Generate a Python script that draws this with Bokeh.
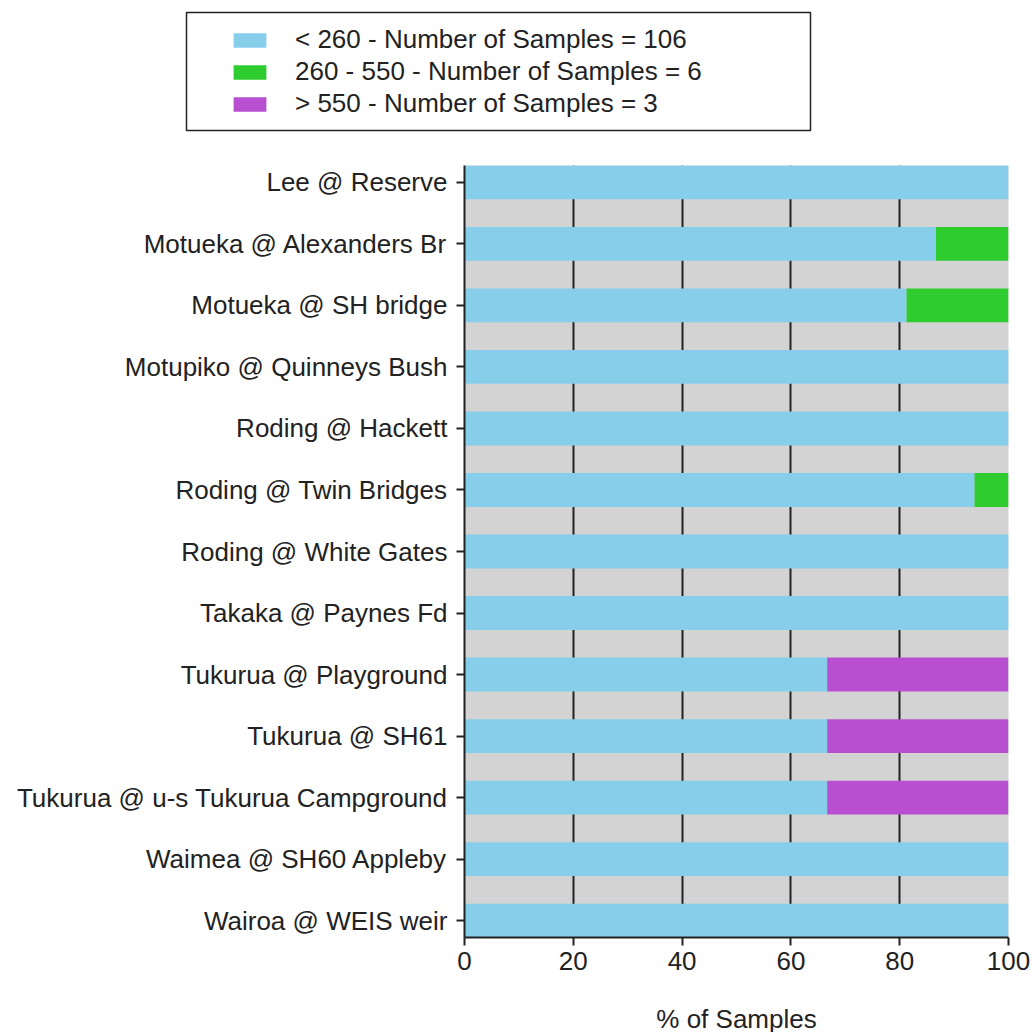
from bokeh.plotting import figure
from bokeh.models import ColumnDataSource, Range1d, FixedTicker, Legend, LegendItem
from bokeh.embed import file_html
from bokeh.resources import INLINE

sites = [
    "Lee @ Reserve",
    "Motueka @ Alexanders Br",
    "Motueka @ SH bridge",
    "Motupiko @ Quinneys Bush",
    "Roding @ Hackett",
    "Roding @ Twin Bridges",
    "Roding @ White Gates",
    "Takaka @ Paynes Fd",
    "Tukurua @ Playground",
    "Tukurua @ SH61",
    "Tukurua @ u-s Tukurua Campground",
    "Waimea @ SH60 Appleby",
    "Wairoa @ WEIS weir",
]
pct_low = [100, 86.67, 81.25, 100, 100, 93.75, 100, 100, 66.67, 66.67, 66.67, 100, 100]
pct_mid = [0, 13.33, 18.75, 0, 0, 6.25, 0, 0, 0, 0, 0, 0, 0]
pct_high = [0, 0, 0, 0, 0, 0, 0, 0, 33.33, 33.33, 33.33, 0, 0]
series_labels = [
    "< 260 - Number of Samples = 106",
    "260 - 550 - Number of Samples = 6",
    "> 550 - Number of Samples = 3",
]
series_colors = ["#87ceeb", "#2ecc2e", "#b74fd0"]
x_ticks = [0, 20, 40, 60, 80, 100]

FONT = "Liberation Sans"
FS = "26px"
TXT = "#222222"

src = ColumnDataSource(dict(y=list(range(len(sites))), low=pct_low, mid=pct_mid, high=pct_high))

# ---- legend strip (top): its frame outline is the legend box ----
LEG_H = 150
lf = figure(
    width=1032, height=LEG_H,
    frame_width=624, frame_height=118,
    min_border_left=186, min_border_right=1032 - 186 - 624,
    min_border_top=12, min_border_bottom=LEG_H - 12 - 118,
    x_range=Range1d(0, 100), y_range=Range1d(0, 1),
    x_axis_location=None, y_axis_location=None,
    output_backend="svg", toolbar_location=None,
)
lf.outline_line_color = TXT
lf.outline_line_width = 1.5
lf.background_fill_color = "white"
lf.border_fill_color = "white"
lf.xgrid.grid_line_color = None
lf.ygrid.grid_line_color = None
leg_renderers = lf.hbar_stack(["low", "mid", "high"], y="y", height=0.55,
                              fill_color=series_colors, line_color=None, source=src)
for r in leg_renderers:
    r.visible = False

legend = Legend(
    items=[LegendItem(label=lab, renderers=[r]) for lab, r in zip(series_labels, leg_renderers)],
    location=(43, 11),
    orientation="vertical",
    click_policy="none",
    label_text_font=FONT,
    label_text_font_size=FS,
    label_text_color=TXT,
    glyph_width=41, glyph_height=18,
    label_standoff=25,
    spacing=1,
    padding=0,
    margin=0,
    border_line_color=None,
    background_fill_alpha=0,
)
lf.add_layout(legend, "center")

# ---- main chart ----
p = figure(
    width=1032, height=1032 - LEG_H,
    frame_width=544, frame_height=772,
    min_border_left=464, min_border_right=24, min_border_top=165 - LEG_H, min_border_bottom=95,
    x_range=Range1d(0, 100),
    y_range=Range1d(len(sites) - 1 + 0.275, -0.275),
    output_backend="svg", toolbar_location=None,
)
p.background_fill_color = "#d3d3d3"
p.outline_line_color = None

renderers = p.hbar_stack(["low", "mid", "high"], y="y", height=0.55,
                         fill_color=series_colors, line_color=None, source=src)

p.xgrid.ticker = FixedTicker(ticks=x_ticks)
p.xgrid.grid_line_color = TXT
p.xgrid.grid_line_width = 2
p.ygrid.grid_line_color = None

p.xaxis.ticker = FixedTicker(ticks=x_ticks)
p.xaxis.axis_label = "% of Samples"
p.xaxis.axis_label_text_font = FONT
p.xaxis.axis_label_text_font_size = FS
p.xaxis.axis_label_text_font_style = "normal"
p.xaxis.axis_label_text_color = TXT
p.xaxis.axis_label_standoff = 31
p.xaxis.major_label_text_font = FONT
p.xaxis.major_label_text_font_size = FS
p.xaxis.major_label_text_color = TXT
p.xaxis.major_label_standoff = 6

p.yaxis.ticker = FixedTicker(ticks=list(range(len(sites))))
p.yaxis.major_label_overrides = {i: s for i, s in enumerate(sites)}
p.yaxis.major_label_text_font = FONT
p.yaxis.major_label_text_font_size = FS
p.yaxis.major_label_text_color = TXT
p.yaxis.major_label_standoff = 9

for ax in (p.xaxis, p.yaxis):
    ax.axis_line_color = TXT
    ax.axis_line_width = 2
    ax.major_tick_line_color = TXT
    ax.major_tick_line_width = 2
    ax.major_tick_out = 8
    ax.major_tick_in = 0
    ax.minor_tick_line_color = None

open("out.html", "w").write(file_html([lf, p], INLINE))
